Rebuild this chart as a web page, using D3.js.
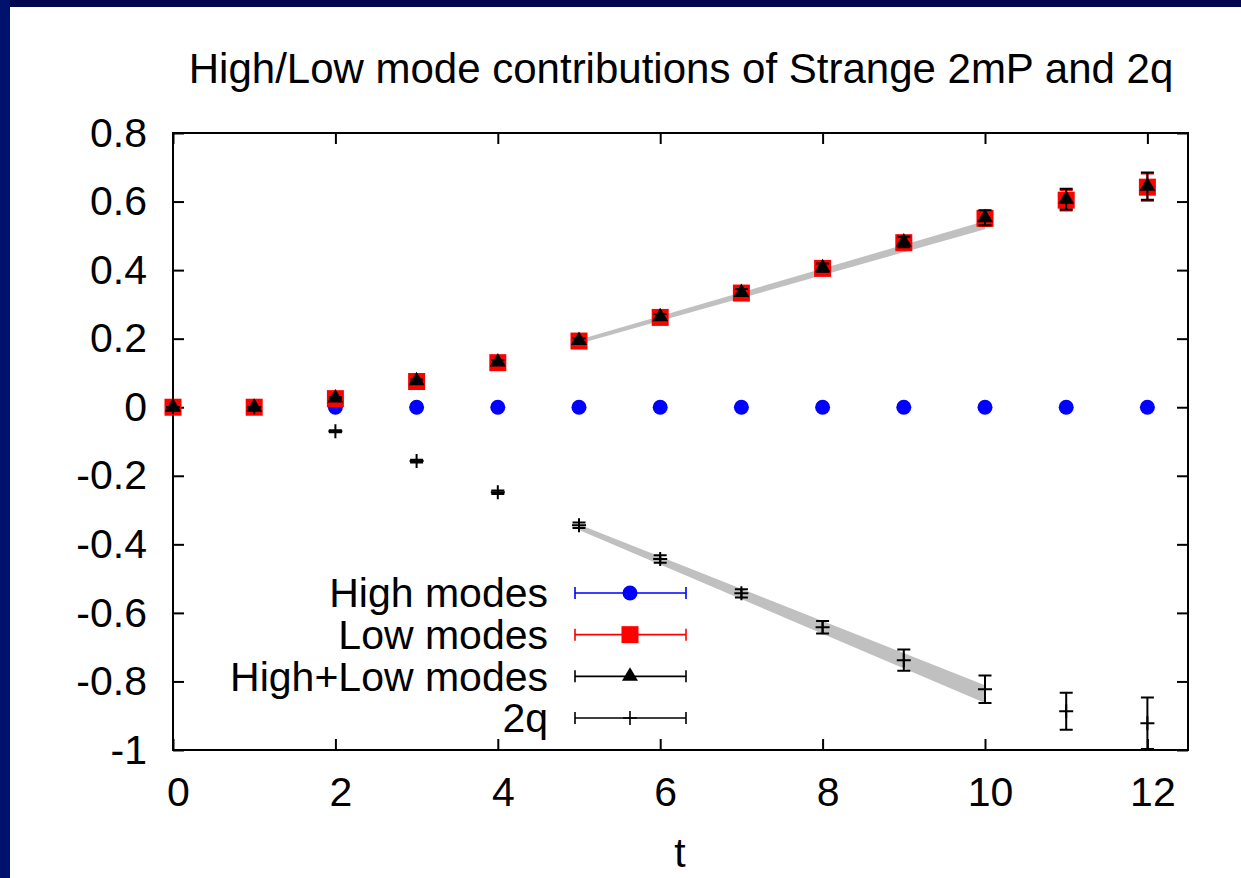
<!DOCTYPE html>
<html>
<head>
<meta charset="utf-8">
<script src="https://cdn.jsdelivr.net/npm/d3@7"></script>
<style>
body { margin: 0; background: #fff; }
text { font-family: "Liberation Sans", Arial, Helvetica, sans-serif; }
</style>
</head>
<body>
<div id="chart"></div>
<script>
// data
var tVals = [0, 1, 2, 3, 4, 5, 6, 7, 8, 9, 10, 11, 12];

var highVals = [0, 0, 0, 0, 0, 0, 0, 0, 0, 0, 0, 0, 0];
var highErr = [0, 0, 0, 0, 0, 0, 0, 0, 0, 0, 0, 0, 0];

var lowVals = [0, 0, 0.025, 0.075, 0.13, 0.193, 0.262, 0.333, 0.405, 0.48, 0.551, 0.604, 0.642];
var lowErr = [0, 0, 0.003, 0.004, 0.005, 0.006, 0.008, 0.01, 0.012, 0.015, 0.022, 0.03, 0.04];

var hlVals = [0, 0, 0.027, 0.077, 0.132, 0.195, 0.264, 0.335, 0.407, 0.482, 0.553, 0.607, 0.645];
var hlErr = [0.001, 0.001, 0.003, 0.004, 0.005, 0.006, 0.008, 0.01, 0.012, 0.015, 0.022, 0.03, 0.04];

var qVals = [0, 0, -0.07, -0.157, -0.248, -0.344, -0.443, -0.543, -0.642, -0.738, -0.823, -0.887, -0.922];
var qErr = [0, 0, 0.003, 0.004, 0.005, 0.008, 0.011, 0.012, 0.018, 0.031, 0.04, 0.054, 0.075];

// fit bands (t = 5 .. 10)
var bandT = [5, 10];
var upperCenter = [0.191, 0.531];
var upperHalf = [0.006, 0.012];
var lowerCenter = [-0.35, -0.837];
var lowerHalf = [0.008, 0.026];

var xTicks = [0, 2, 4, 6, 8, 10, 12];
var yTicks = [-1, -0.8, -0.6, -0.4, -0.2, 0, 0.2, 0.4, 0.6, 0.8];

var legendLabels = ["High modes", "Low modes", "High+Low modes", "2q"];
var legendColors = ["#0000ff", "#ff0000", "#000000", "#000000"];

var svgWidth = 1241;
var svgHeight = 878;
var plot = { left: 173, right: 1188, top: 133, bottom: 750 };
var fontSize = 41;

var svg = d3.select("#chart")
    .append("svg")
    .attr("width", svgWidth)
    .attr("height", svgHeight);

svg.append("rect").attr("width", svgWidth).attr("height", svgHeight).attr("fill", "#fff");
// slide frame
svg.append("rect").attr("x", 0).attr("y", 0).attr("width", svgWidth).attr("height", 7).attr("fill", "#020850");
svg.append("rect").attr("x", 0).attr("y", 0).attr("width", 10).attr("height", svgHeight).attr("fill", "#00116e");

var x = d3.scaleLinear().domain([0, 12.5]).range([plot.left, plot.right]);
var y = d3.scaleLinear().domain([-1, 0.8]).range([plot.bottom, plot.top]);

// fit bands
function bandData(center, half) {
    return bandT.map((t, i) => ({ t: t, lo: center[i] - half[i], hi: center[i] + half[i] }));
}
var area = d3.area()
    .x(d => x(d.t))
    .y0(d => y(d.lo))
    .y1(d => y(d.hi));

svg.append("path").datum(bandData(upperCenter, upperHalf)).attr("d", area).attr("fill", "#c0c0c0");
svg.append("path").datum(bandData(lowerCenter, lowerHalf)).attr("d", area).attr("fill", "#c0c0c0");

// axes
function styleAxis(g) {
    g.select(".domain").remove();
    g.selectAll("line").attr("stroke", "#000").attr("stroke-width", 2);
    g.attr("font-size", fontSize).attr("font-family", null);
    g.selectAll("text").attr("fill", "#000");
}
var fmt = d => String(+d.toFixed(1));

svg.append("g")
    .attr("transform", `translate(0, ${plot.bottom})`)
    .call(d3.axisBottom(x).tickValues(xTicks).tickSize(-11).tickSizeOuter(0).tickPadding(27).tickFormat(fmt))
    .call(styleAxis)
    .selectAll("text").attr("dx", 5);

svg.append("g")
    .attr("transform", `translate(0, ${plot.top})`)
    .call(d3.axisTop(x).tickValues(xTicks).tickSize(-11).tickSizeOuter(0).tickFormat(""))
    .call(styleAxis);

svg.append("g")
    .attr("transform", `translate(${plot.left}, 0)`)
    .call(d3.axisLeft(y).tickValues(yTicks).tickSize(-11).tickSizeOuter(0).tickPadding(26).tickFormat(fmt))
    .call(styleAxis);

svg.append("g")
    .attr("transform", `translate(${plot.right}, 0)`)
    .call(d3.axisRight(y).tickValues(yTicks).tickSize(-11).tickSizeOuter(0).tickFormat(""))
    .call(styleAxis);

svg.append("rect")
    .attr("x", plot.left).attr("y", plot.top)
    .attr("width", plot.right - plot.left).attr("height", plot.bottom - plot.top)
    .attr("fill", "none").attr("stroke", "#000").attr("stroke-width", 2);

// markers
var triPath = "M0,-9L8,4.5L-8,4.5Z";
var plusPath = "M-7,0H7M0,-7V7";

function drawErrors(vals, errs, color) {
    var rows = tVals.map((t, i) => ({ t: t, v: vals[i], e: errs[i] })).filter(d => d.e > 0);
    var g = svg.append("g").attr("stroke", color).attr("stroke-width", 2).attr("fill", "none");
    g.selectAll(".bar").data(rows).enter().append("path")
        .attr("d", d => {
            var cx = x(d.t), y0 = y(d.v - d.e), y1 = y(d.v + d.e);
            return `M${cx},${y0}V${y1}M${cx - 6.5},${y0}H${cx + 6.5}M${cx - 6.5},${y1}H${cx + 6.5}`;
        });
}

function drawMarkers(vals, kind, color) {
    var rows = tVals.map((t, i) => ({ t: t, v: vals[i] }));
    var g = svg.append("g");
    var sel = g.selectAll(".m").data(rows).enter();
    if (kind === "circle") {
        sel.append("circle").attr("cx", d => x(d.t)).attr("cy", d => y(d.v)).attr("r", 7.5).attr("fill", color);
    } else if (kind === "square") {
        sel.append("rect").attr("x", d => x(d.t) - 8.5).attr("y", d => y(d.v) - 8.5)
            .attr("width", 17).attr("height", 17).attr("fill", color);
    } else if (kind === "triangle") {
        sel.append("path").attr("d", triPath).attr("transform", d => `translate(${x(d.t)},${y(d.v)})`).attr("fill", color);
    } else {
        sel.append("path").attr("d", plusPath)
            .attr("transform", d => `translate(${x(d.t)},${y(d.v)})`)
            .attr("stroke", color).attr("stroke-width", 2);
    }
}

drawErrors(highVals, highErr, "#0000ff");
drawMarkers(highVals, "circle", "#0000ff");
drawErrors(lowVals, lowErr, "#ff0000");
drawMarkers(lowVals, "square", "#ff0000");
drawErrors(hlVals, hlErr, "#000");
drawMarkers(hlVals, "triangle", "#000");
drawErrors(qVals, qErr, "#000");
drawMarkers(qVals, "plus", "#000");

// legend
var kinds = ["circle", "square", "triangle", "plus"];
var legendY = d3.scalePoint().domain(legendLabels).range([593, 718]);
var legend = svg.append("g");
legendLabels.forEach((label, i) => {
    var ly = legendY(label);
    var c = legendColors[i];
    legend.append("text")
        .attr("x", 548).attr("y", ly).attr("dy", "0.35em")
        .attr("text-anchor", "end").attr("font-size", fontSize)
        .text(label);
    legend.append("path")
        .attr("d", `M575,${ly}H686M575,${ly - 6}V${ly + 6}M686,${ly - 6}V${ly + 6}`)
        .attr("stroke", c).attr("stroke-width", 1.6).attr("fill", "none");
    if (kinds[i] === "circle") {
        legend.append("circle").attr("cx", 630).attr("cy", ly).attr("r", 7.5).attr("fill", c);
    } else if (kinds[i] === "square") {
        legend.append("rect").attr("x", 630 - 8.5).attr("y", ly - 8.5).attr("width", 17).attr("height", 17).attr("fill", c);
    } else if (kinds[i] === "triangle") {
        legend.append("path").attr("d", triPath).attr("transform", `translate(630,${ly})`).attr("fill", c);
    } else {
        legend.append("path").attr("d", plusPath).attr("transform", `translate(630,${ly})`)
            .attr("stroke", c).attr("stroke-width", 1.6);
    }
});

// title and axis label
svg.append("text")
    .attr("x", 681).attr("y", 83)
    .attr("text-anchor", "middle").attr("font-size", 42)
    .text("High/Low mode contributions of Strange 2mP and 2q");

svg.append("text")
    .attr("x", 680).attr("y", 867)
    .attr("text-anchor", "middle").attr("font-size", fontSize)
    .text("t");
</script>
</body>
</html>
